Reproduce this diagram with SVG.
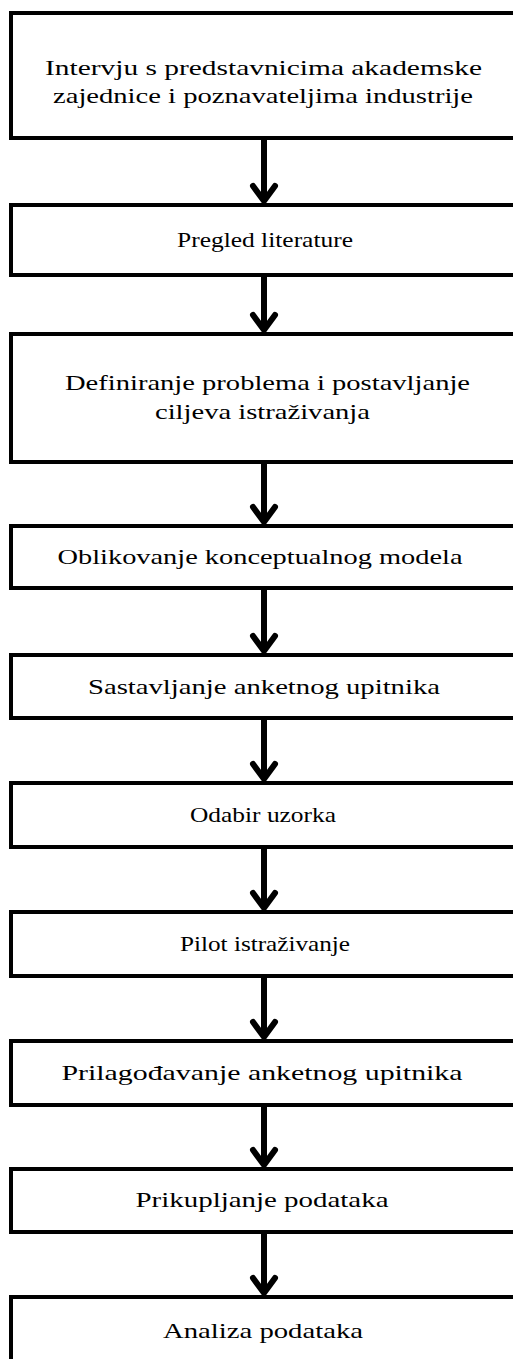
<svg xmlns="http://www.w3.org/2000/svg" width="513" height="1359" viewBox="0 0 513 1359">
<style>
.box{fill:#fff;stroke:#000;stroke-width:4}
.t{font-family:"Liberation Serif","Times New Roman",serif;font-size:22px;fill:#000;text-anchor:middle}
.ln{stroke:#000;stroke-width:6;fill:none}
.hd{stroke:#000;stroke-width:6;fill:none;stroke-linecap:round;stroke-linejoin:miter}
</style>
<rect width="513" height="1359" fill="#fff"/>
<g id="connectors">
<line class="ln" x1="264" y1="138" x2="264" y2="202"/><polyline class="hd" points="253,186 264,201 275,186"/>
<line class="ln" x1="264" y1="275" x2="264" y2="331"/><polyline class="hd" points="253,315 264,330 275,315"/>
<line class="ln" x1="264" y1="462" x2="264" y2="523"/><polyline class="hd" points="253,507 264,522 275,507"/>
<line class="ln" x1="264" y1="588" x2="264" y2="652"/><polyline class="hd" points="253,636 264,651 275,636"/>
<line class="ln" x1="264" y1="718" x2="264" y2="780"/><polyline class="hd" points="253,764 264,779 275,764"/>
<line class="ln" x1="264" y1="847" x2="264" y2="909"/><polyline class="hd" points="253,893 264,908 275,893"/>
<line class="ln" x1="264" y1="976" x2="264" y2="1038"/><polyline class="hd" points="253,1022 264,1037 275,1022"/>
<line class="ln" x1="264" y1="1105" x2="264" y2="1166"/><polyline class="hd" points="253,1150 264,1165 275,1150"/>
<line class="ln" x1="264" y1="1232" x2="264" y2="1294"/><polyline class="hd" points="253,1278 264,1293 275,1278"/>
</g>
<g id="n1"><rect class="box" x="11" y="13" width="520" height="125"/>
<text class="t" x="263.5" y="75" textLength="437" lengthAdjust="spacingAndGlyphs">Intervju s predstavnicima akademske</text>
<text class="t" x="263" y="103" textLength="420" lengthAdjust="spacingAndGlyphs">zajednice i poznavateljima industrije</text></g>
<g id="n2"><rect class="box" x="11" y="205" width="520" height="70"/>
<text class="t" x="265" y="247" textLength="176" lengthAdjust="spacingAndGlyphs">Pregled literature</text></g>
<g id="n3"><rect class="box" x="11" y="334" width="520" height="128"/>
<text class="t" x="267.5" y="390" textLength="405" lengthAdjust="spacingAndGlyphs">Definiranje problema i postavljanje</text>
<text class="t" x="262.5" y="419" textLength="215" lengthAdjust="spacingAndGlyphs">ciljeva istraživanja</text></g>
<g id="n4"><rect class="box" x="11" y="526" width="520" height="62"/>
<text class="t" x="260" y="564" textLength="405" lengthAdjust="spacingAndGlyphs">Oblikovanje konceptualnog modela</text></g>
<g id="n5"><rect class="box" x="11" y="655" width="520" height="63"/>
<text class="t" x="264" y="694" textLength="352" lengthAdjust="spacingAndGlyphs">Sastavljanje anketnog upitnika</text></g>
<g id="n6"><rect class="box" x="11" y="783" width="520" height="64"/>
<text class="t" x="263" y="822" textLength="146" lengthAdjust="spacingAndGlyphs">Odabir uzorka</text></g>
<g id="n7"><rect class="box" x="11" y="912" width="520" height="64"/>
<text class="t" x="265" y="951" textLength="170" lengthAdjust="spacingAndGlyphs">Pilot istraživanje</text></g>
<g id="n8"><rect class="box" x="11" y="1041" width="520" height="64"/>
<text class="t" x="262" y="1080" textLength="401" lengthAdjust="spacingAndGlyphs">Prilagođavanje anketnog upitnika</text></g>
<g id="n9"><rect class="box" x="11" y="1169" width="520" height="63"/>
<text class="t" x="262" y="1207" textLength="253" lengthAdjust="spacingAndGlyphs">Prikupljanje podataka</text></g>
<g id="n10"><rect class="box" x="11" y="1297" width="520" height="80"/>
<text class="t" x="263" y="1338" textLength="200" lengthAdjust="spacingAndGlyphs">Analiza podataka</text></g>
</svg>
